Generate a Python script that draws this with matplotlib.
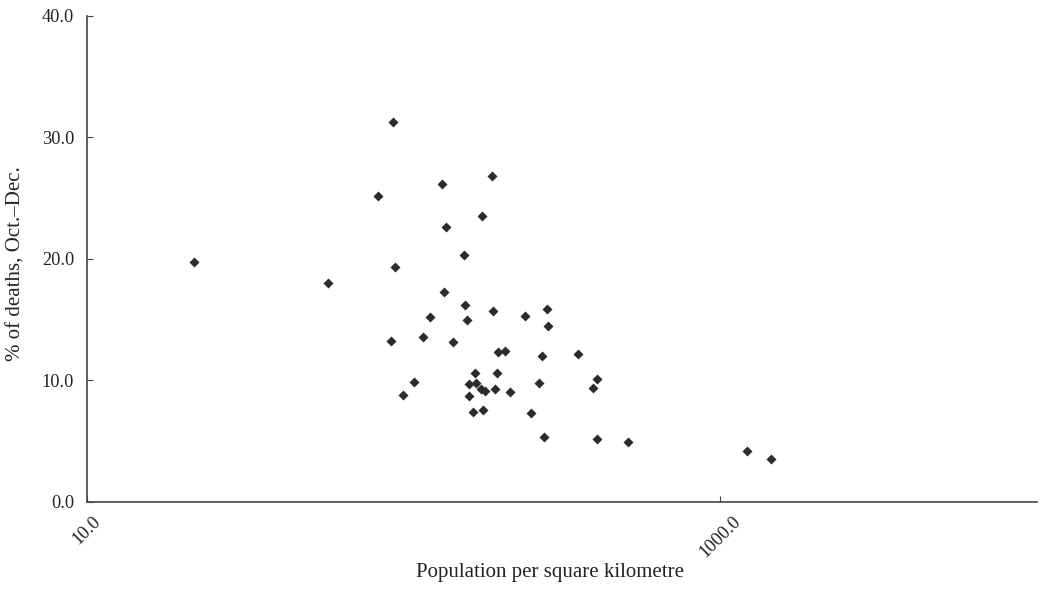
import matplotlib.pyplot as plt
from matplotlib.ticker import FixedLocator, FormatStrFormatter

# population density (per sq km) and share of deaths in Oct.-Dec. (%)
density = [21.8, 58.0, 83.4, 92.5, 94.0, 91.5, 99.8, 108.0, 115.2, 121.2,
           132.4, 134.1, 136.7, 143.3, 155.3, 156.0, 158.8, 160.6, 161.4, 165.8,
           168.6, 169.8, 176.1, 176.5, 177.8, 180.4, 189.9, 192.2, 194.0, 196.9,
           199.0, 208.6, 217.4, 242.1, 252.9, 268.6, 274.6, 277.9, 283.2, 286.2,
           354.8, 397.1, 409.6, 407.6, 511.4, 1213.0, 1445.0]
deaths_pct = [19.75, 18.0, 25.2, 31.3, 19.36, 13.24, 8.81, 9.88, 13.54, 15.19,
              26.14, 17.27, 22.6, 13.18, 20.3, 16.18, 14.94, 9.72, 8.71, 7.36,
              10.6, 9.8, 9.26, 23.53, 7.58, 9.09, 26.85, 15.68, 9.28, 10.63,
              12.33, 12.39, 9.06, 15.32, 7.28, 9.75, 12.03, 5.35, 15.9, 14.5,
              12.19, 9.34, 10.13, 5.16, 4.92, 4.18, 3.52]

x_ticks = [10, 1000]
y_ticks = [0, 10, 20, 30, 40]

plt.rcParams['font.family'] = ['Liberation Serif', 'DejaVu Serif']

fig = plt.figure(figsize=(10.41, 5.9), dpi=100)
ax = fig.add_axes([0.0833, 0.1497, 0.9127, 0.8233])

ax.scatter(density, deaths_pct, marker='D', s=26, color='#2b2b2b', linewidths=0)

ax.set_xscale('log')
ax.set_xlim(10, 10000)
ax.set_ylim(0, 40)
ax.xaxis.set_major_locator(FixedLocator(x_ticks))
ax.xaxis.set_minor_locator(FixedLocator([]))
ax.xaxis.set_major_formatter(FormatStrFormatter('%.1f'))
ax.set_yticks(y_ticks)
ax.yaxis.set_major_formatter(FormatStrFormatter('%.1f'))

for side in ['top', 'right']:
    ax.spines[side].set_visible(False)
for side in ['left', 'bottom']:
    ax.spines[side].set_color('#444444')
    ax.spines[side].set_linewidth(1.2)

ax.tick_params(direction='in', length=4, color='#444444', labelsize=13.2,
               labelcolor='#222222')
ax.tick_params(axis='y', pad=9)
ax.tick_params(axis='x', pad=8)
plt.setp(ax.get_xticklabels(), rotation=45, ha='center')

ax.set_xlabel('Population per square kilometre', fontsize=15, color='#222222')
ax.xaxis.set_label_coords(0.488, -0.127)
ax.set_ylabel('% of deaths, Oct.–Dec.', fontsize=15, color='#222222')
ax.yaxis.set_label_coords(-0.064, 0.49)

fig.savefig('out.png', dpi=100)
